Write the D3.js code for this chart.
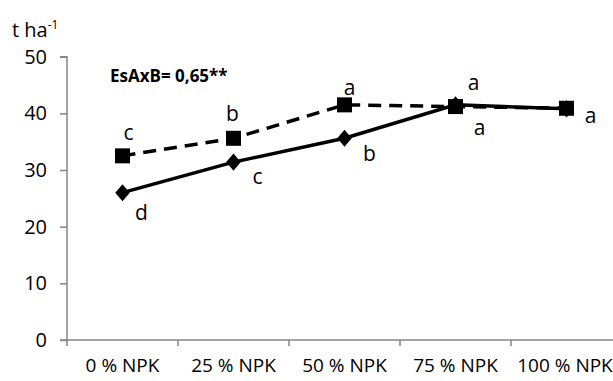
<!DOCTYPE html>
<html>
<head>
<meta charset="utf-8">
<script src="https://cdn.jsdelivr.net/npm/d3@7/dist/d3.min.js"></script>
<style>
  body { margin: 0; background: #fff; }
  svg { display: block; font-family: "Open Sans", "Liberation Sans", sans-serif; }
</style>
</head>
<body>
<div id="chart"></div>
<script>
// data
const categories = ['0 % NPK', '25 % NPK', '50 % NPK', '75 % NPK', '100 % NPK'];
const solidValues = [26.0, 31.4, 35.6, 41.5, 40.8];   // diamonds, solid line
const dashedValues = [32.5, 35.6, 41.5, 41.2, 40.9];  // squares, dashed line
const solidLetters = ['d', 'c', 'b', 'a', ''];
const dashedLetters = ['c', 'b', 'a', 'a', 'a'];
const yTicks = [0, 10, 20, 30, 40, 50];

// letter offsets from its marker (layout only)
const solidOffsets = [[19, 20], [24, 15], [25, 15], [18, -22], [0, 0]];
const dashedOffsets = [[6, -23], [-1, -25], [5, -17], [24, 21], [24, 7]];

const W = 613, H = 381;
const svg = d3.select('#chart').append('svg')
  .attr('width', W)
  .attr('height', H);

const x = d3.scaleBand()
  .domain(categories)
  .range([67, 622]);

const y = d3.scaleLinear()
  .domain([0, 50])
  .range([340, 56.7]);

const cx = d => x(d) + x.bandwidth() / 2;

// y axis
const yAxis = svg.append('g')
  .attr('transform', 'translate(67,0)')
  .call(d3.axisLeft(y).tickValues(yTicks).tickSize(7).tickPadding(13));
yAxis.select('.domain').attr('d', `M-7,${y(50)}H0V${y(0)}`);

// x axis with ticks at category edges
const xAxis = svg.append('g')
  .attr('transform', 'translate(0,340)');
xAxis.append('path')
  .attr('class', 'domain')
  .attr('d', `M60,0H${W}`);
xAxis.selectAll('.tk')
  .data(categories)
  .enter().append('line')
  .attr('x1', d => x(d)).attr('x2', d => x(d))
  .attr('y1', 0).attr('y2', 6);

svg.selectAll('.domain, .tick line, line')
  .attr('stroke', '#868686')
  .attr('stroke-width', 1.5);
svg.selectAll('text')
  .attr('font-size', 20)
  .attr('fill', '#000');
svg.selectAll('g').attr('font-family', null).attr('font-size', null);

xAxis.selectAll('.lbl')
  .data(categories)
  .enter().append('text')
  .attr('x', d => Math.min(cx(d), W - 48))
  .attr('y', 32)
  .attr('text-anchor', 'middle')
  .attr('font-size', 19)
  .text(d => d);

// unit label
const unit = svg.append('text')
  .attr('x', 12)
  .attr('y', 37)
  .attr('font-size', 20);
unit.append('tspan').text('t ha');
unit.append('tspan').attr('dy', -8).attr('font-size', 12).text('-1');

// annotation
svg.append('text')
  .attr('x', 110)
  .attr('y', 82)
  .attr('font-size', 17)
  .attr('font-weight', 'bold')
  .text('EsAxB= 0,65**');

const line = d3.line()
  .x((d, i) => cx(categories[i]))
  .y(d => y(d));

// dashed series
svg.append('path')
  .datum(dashedValues)
  .attr('d', line)
  .attr('fill', 'none')
  .attr('stroke', '#000')
  .attr('stroke-width', 3.5)
  .attr('stroke-dasharray', '13,8');
svg.selectAll('.sq')
  .data(dashedValues)
  .enter().append('rect')
  .attr('x', (d, i) => cx(categories[i]) - 7.5)
  .attr('y', d => y(d) - 7.5)
  .attr('width', 15)
  .attr('height', 15)
  .attr('fill', '#000');

// solid series
svg.append('path')
  .datum(solidValues)
  .attr('d', line)
  .attr('fill', 'none')
  .attr('stroke', '#000')
  .attr('stroke-width', 3.5);
svg.selectAll('.dm')
  .data(solidValues)
  .enter().append('path')
  .attr('d', d3.symbol(d3.symbolDiamond, 150))
  .attr('transform', (d, i) => `translate(${cx(categories[i])},${y(d)}) scale(1.1,0.75)`)
  .attr('fill', '#000');

// significance letters
const letters = (vals, lets, offs) => {
  svg.append('g').selectAll('text')
    .data(vals)
    .enter().append('text')
    .attr('x', (d, i) => cx(categories[i]) + offs[i][0])
    .attr('y', (d, i) => y(d) + offs[i][1])
    .attr('dy', '0.35em')
    .attr('text-anchor', 'middle')
    .attr('font-size', 21)
    .text((d, i) => lets[i]);
};
letters(dashedValues, dashedLetters, dashedOffsets);
letters(solidValues, solidLetters, solidOffsets);
</script>
</body>
</html>
